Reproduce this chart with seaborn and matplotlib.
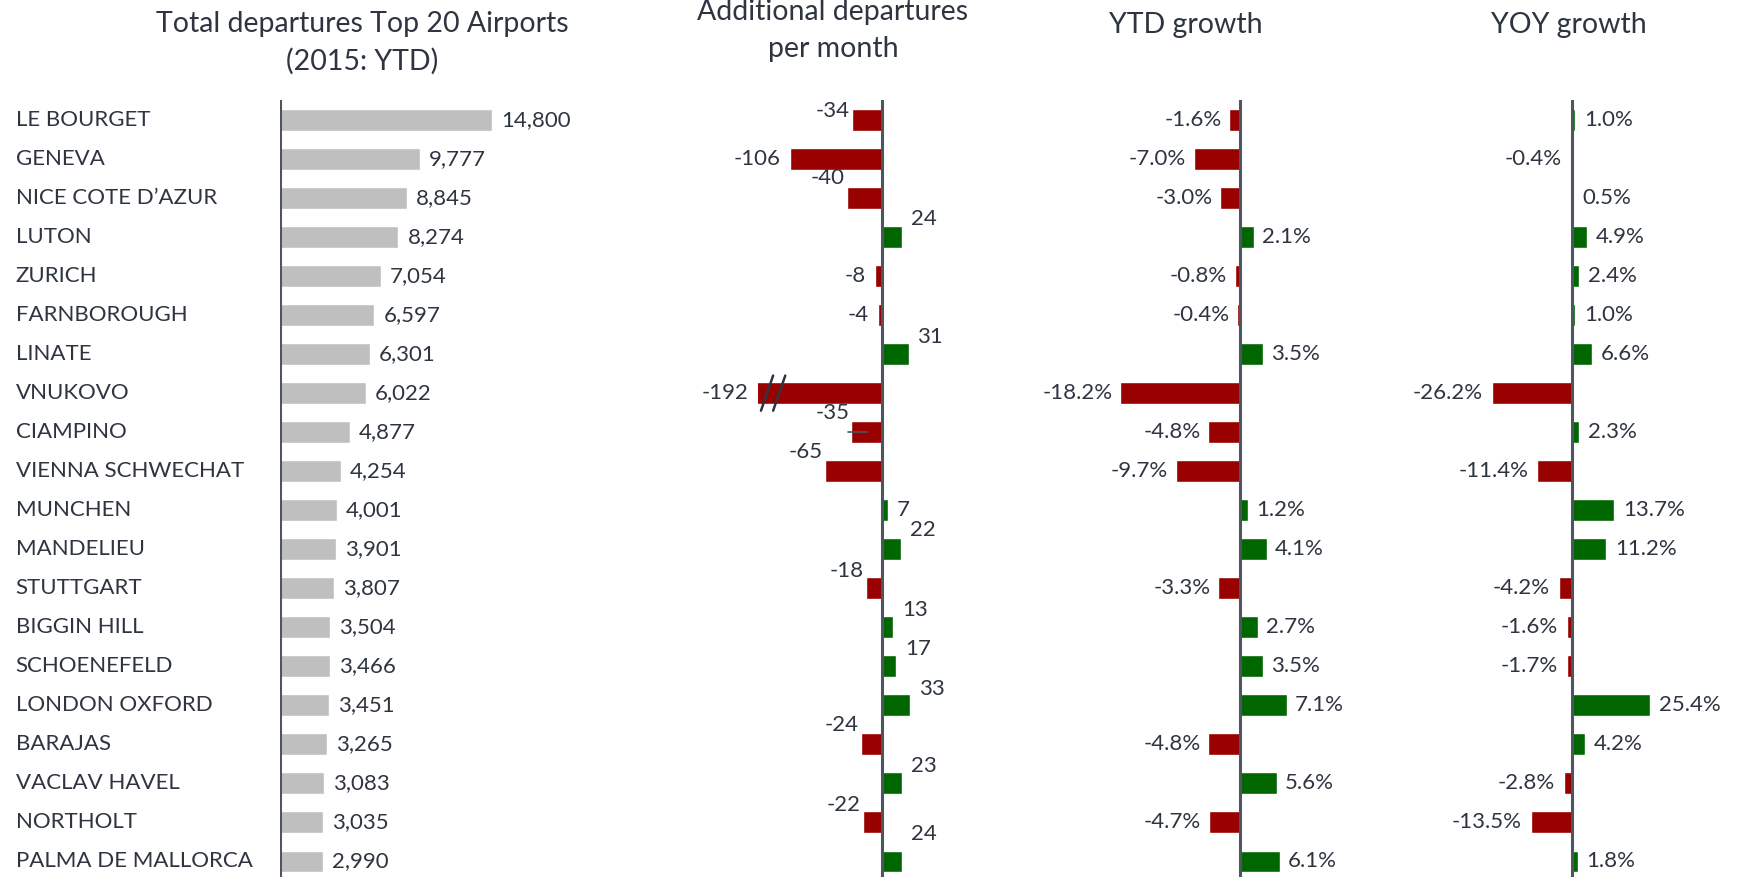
import numpy as np
import pandas as pd
import matplotlib
matplotlib.use("Agg")
import matplotlib.pyplot as plt
import matplotlib.transforms as mtransforms
import seaborn as sns

# ---------------- data ----------------
airports = ["LE BOURGET", "GENEVA", "NICE COTE D\u2019AZUR", "LUTON", "ZURICH",
            "FARNBOROUGH", "LINATE", "VNUKOVO", "CIAMPINO", "VIENNA SCHWECHAT",
            "MUNCHEN", "MANDELIEU", "STUTTGART", "BIGGIN HILL", "SCHOENEFELD",
            "LONDON OXFORD", "BARAJAS", "VACLAV HAVEL", "NORTHOLT", "PALMA DE MALLORCA"]
total_departures = [14800, 9777, 8845, 8274, 7054, 6597, 6301, 6022, 4877, 4254,
                    4001, 3901, 3807, 3504, 3466, 3451, 3265, 3083, 3035, 2990]
additional_per_month = [-34, -106, -40, 24, -8, -4, 31, -192, -35, -65,
                        7, 22, -18, 13, 17, 33, -24, 23, -22, 24]
ytd_growth = [-1.6, -7.0, -3.0, 2.1, -0.8, -0.4, 3.5, -18.2, -4.8, -9.7,
              1.2, 4.1, -3.3, 2.7, 3.5, 7.1, -4.8, 5.6, -4.7, 6.1]
yoy_growth = [1.0, -0.4, 0.5, 4.9, 2.4, 1.0, 6.6, -26.2, 2.3, -11.4,
              13.7, 11.2, -4.2, -1.6, -1.7, 25.4, 4.2, -2.8, -13.5, 1.8]

titles = ["Total departures Top 20 Airports\n(2015: YTD)",
          "Additional departures\nper month", "YTD growth", "YOY growth"]

# label vertical shift (in rows) for the "additional departures" panel (style only)
add_label_dy = [-0.23, 0, -0.5, -0.45, 0, 0, -0.45, 0, -0.48, -0.48,
                0, -0.48, -0.45, -0.43, -0.45, -0.43, -0.5, -0.45, -0.45, -0.7]

# ---------------- style ----------------
sns.set_theme(style="white")
plt.rcParams['font.family'] = ['Lato', 'DejaVu Sans']

TEXT = '#2e3540'
AXIS = '#4d5560'
GREY = '#bfbfbf'
RED = '#990000'
GREEN = '#006600'
LABEL_FS = 16
TITLE_FS = 20.5
BAR_W = 0.56

fig = plt.figure(figsize=(17.39, 8.77), dpi=100)
BOTTOM, HEIGHT = -0.0045, 0.89


def signed_df(vals):
    vals = np.asarray(vals, dtype=float)
    return pd.DataFrame({"airport": airports, "value": vals,
                         "sign": np.where(vals < 0, "neg", "pos")})


def setup(ax, xlim):
    ax.set_xlim(*xlim)
    ax.set_ylim(len(airports) - 0.5, -0.5)
    ax.set_axis_off()
    ax.axvline(0, color=AXIS, lw=2.2, zorder=5)


# ---------------- panel 1: totals ----------------
ax1 = fig.add_axes([0.161, BOTTOM, 0.1317, HEIGHT])
df1 = pd.DataFrame({"airport": airports, "value": total_departures})
sns.barplot(data=df1, x="value", y="airport", order=airports, orient="h",
            color=GREY, saturation=1, width=BAR_W, errorbar=None, ax=ax1)
setup(ax1, (0, 16000))
tr_names = mtransforms.blended_transform_factory(fig.transFigure, ax1.transData)
for i, (name, v) in enumerate(zip(airports, total_departures)):
    ax1.text(0.009, i, name, transform=tr_names, ha="left", va="center",
             fontsize=LABEL_FS, color=TEXT)
    ax1.annotate(f"{v:,}", xy=(v, i), xytext=(9, 0), textcoords="offset pixels",
                 ha="left", va="center", fontsize=LABEL_FS, color=TEXT)

pal = {"neg": RED, "pos": GREEN}

# ---------------- panel 2: additional departures ----------------
x2 = (-143, 60)
ax2 = fig.add_axes([0.4356, BOTTOM, 0.1013, HEIGHT])
sns.barplot(data=signed_df(additional_per_month), x="value", y="airport",
            hue="sign", hue_order=["neg", "pos"], palette=pal, dodge=False,
            order=airports, orient="h", saturation=1, width=BAR_W,
            errorbar=None, legend=False, ax=ax2)
setup(ax2, x2)
for i, (v, dy) in enumerate(zip(additional_per_month, add_label_dy)):
    xv = max(v, x2[0])
    if v >= 0:
        off, ha = 9, "left"
    else:
        off, ha = (-2 if dy != 0 else -9), "right"
    ax2.annotate(f"{v}", xy=(xv, i + dy), xytext=(off, 0), textcoords="offset pixels",
                 ha=ha, va="center", fontsize=LABEL_FS, color=TEXT,
                 annotation_clip=False)
# axis-break mark on the clipped VNUKOVO bar
i_break = int(np.argmin(additional_per_month))
for xb in (-139, -125):
    ax2.plot([xb, xb + 14], [i_break + 0.45, i_break - 0.45], color=TEXT,
             lw=1.8, clip_on=False, zorder=6)
# small leader line for CIAMPINO label
i_l = airports.index("CIAMPINO")
ax2.plot([additional_per_month[i_l] - 4, additional_per_month[i_l] + 18], [i_l, i_l],
         color=AXIS, lw=1.2, zorder=6)

# ---------------- panel 3: YTD growth ----------------
ax3 = fig.add_axes([0.6374, BOTTOM, 0.1135, HEIGHT])
sns.barplot(data=signed_df(ytd_growth), x="value", y="airport",
            hue="sign", hue_order=["neg", "pos"], palette=pal, dodge=False,
            order=airports, orient="h", saturation=1, width=BAR_W,
            errorbar=None, legend=False, ax=ax3)
setup(ax3, (-20, 10))
for i, v in enumerate(ytd_growth):
    ax3.annotate(f"{v:.1f}%", xy=(v, i), xytext=(8 if v >= 0 else -8, 0),
                 textcoords="offset pixels", ha="left" if v >= 0 else "right",
                 va="center", fontsize=LABEL_FS, color=TEXT, annotation_clip=False)

# ---------------- panel 4: YOY growth ----------------
ax4 = fig.add_axes([0.8513, BOTTOM, 0.1054, HEIGHT])
sns.barplot(data=signed_df(yoy_growth), x="value", y="airport",
            hue="sign", hue_order=["neg", "pos"], palette=pal, dodge=False,
            order=airports, orient="h", saturation=1, width=BAR_W,
            errorbar=None, legend=False, ax=ax4)
setup(ax4, (-30, 30))
for i, v in enumerate(yoy_growth):
    ax4.annotate(f"{v:.1f}%", xy=(v, i), xytext=(9 if v >= 0 else -9, 0),
                 textcoords="offset pixels", ha="left" if v >= 0 else "right",
                 va="center", fontsize=LABEL_FS, color=TEXT, annotation_clip=False)

# ---------------- titles ----------------
title_pos = [(0.2085, 0.951), (0.479, 0.965), (0.682, 0.971), (0.902, 0.971)]
for t, (x, y) in zip(titles, title_pos):
    fig.text(x, y, t, ha="center", va="center", fontsize=TITLE_FS, color=TEXT,
             linespacing=1.5)

fig.savefig("out.png", dpi=100)
